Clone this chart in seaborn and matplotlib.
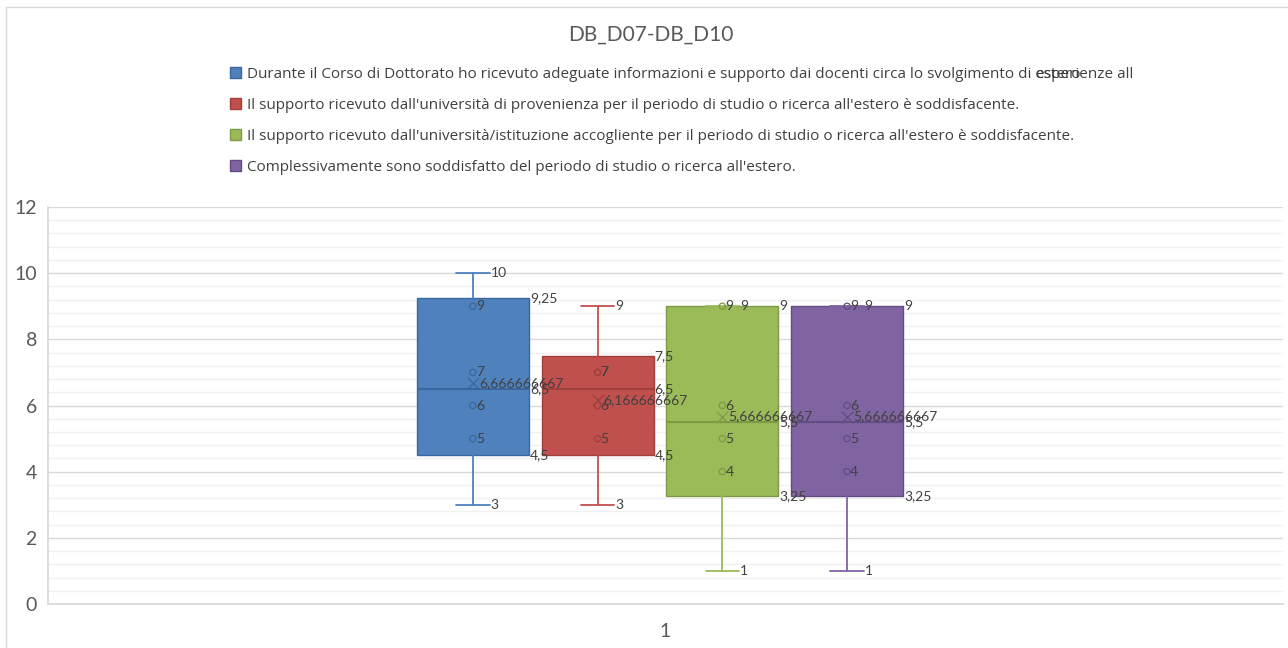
import numpy as np
import matplotlib
matplotlib.use("Agg")
import matplotlib.pyplot as plt
from matplotlib.patches import Patch, Rectangle
from matplotlib.ticker import MultipleLocator
import seaborn as sns

# answers for each question (one category, "1")
d07 = [3, 5, 6, 7, 9, 10]
d08 = [3, 5, 6, 7, 7, 9]
d09 = [1, 4, 5, 6, 9, 9]
d10 = [1, 4, 5, 6, 9, 9]

# first label is wrapped in the original and its second line ("estero")
# ends up drawn on top of the first one
first_label = "Durante il Corso di Dottorato ho ricevuto adeguate informazioni e supporto dai docenti circa lo svolgimento di esperienze all"
first_prefix = "Durante il Corso di Dottorato ho ricevuto adeguate informazioni e supporto dai docenti circa lo svolgimento di "
first_wrap = "estero"
series_labels = [
    first_label,
    "Il supporto ricevuto dall'università di provenienza per il periodo di studio o ricerca all'estero è soddisfacente.",
    "Il supporto ricevuto dall'università/istituzione accogliente per il periodo di studio o ricerca all'estero è soddisfacente.",
    "Complessivamente sono soddisfatto del periodo di studio o ricerca all'estero.",
]
category = "1"
title = "DB_D07-DB_D10"

colors = ["#4F81BD", "#C0504D", "#9BBB59", "#8064A2"]
edges = ["#3A679E", "#A03F3C", "#7D9A45", "#634C84"]

sns.set_theme(style="white")
plt.rcParams["font.family"] = ["Lato", "DejaVu Sans"]

fig = plt.figure(figsize=(12.88, 6.48), dpi=100)
ax = fig.add_axes([48 / 1288, 1 - 604 / 648, 1235 / 1288, 397 / 648])

# layout of the four boxes inside the single category
offsets = [-0.156, -0.055, 0.046, 0.147]
box_w = 0.0907
cap_w = 0.027


def excel_stats(vals):
    v = np.sort(np.asarray(vals, float))
    q1, med, q3 = np.percentile(v, [25, 50, 75], method="weibull")
    iqr = q3 - q1
    lo = v[v >= q1 - 1.5 * iqr].min()
    hi = v[v <= q3 + 1.5 * iqr].max()
    return dict(med=med, q1=q1, q3=q3, whislo=lo, whishi=hi,
                mean=v.mean(), fliers=[])


def fmt(v):
    return f"{v:.10g}".replace(".", ",")


lab_kw = dict(textcoords="offset pixels", ha="left", va="center",
              fontsize=10, color="#404040")

for data, pos, c, ec in zip([d07, d08, d09, d10], offsets, colors, edges):
    st = excel_stats(data)
    ax.bxp([st], positions=[pos], widths=box_w, capwidths=cap_w,
           patch_artist=True, showfliers=False,
           boxprops=dict(facecolor=c, edgecolor=ec, linewidth=1),
           whiskerprops=dict(color=c, linewidth=1.3),
           capprops=dict(color=c, linewidth=1.3),
           medianprops=dict(color=ec, linewidth=1.5))

    # inner points: everything but one min and one max
    inner = sorted(data)[1:-1]
    sns.scatterplot(x=[pos] * len(inner), y=inner, marker="o", s=20,
                    facecolor="none", edgecolor=ec, linewidth=0.9, ax=ax,
                    zorder=4)
    sns.scatterplot(x=[pos], y=[st["mean"]], marker="x", s=70, color=ec,
                    linewidth=0.9, ax=ax, zorder=4)

    for y in inner:
        ax.annotate(fmt(y), (pos, y), xytext=(3, 0), **lab_kw)
    ax.annotate(fmt(st["mean"]), (pos, st["mean"]), xytext=(6, 0), **lab_kw)
    ax.annotate(fmt(st["whishi"]), (pos + cap_w / 2, st["whishi"]), xytext=(1, 0), **lab_kw)
    ax.annotate(fmt(st["whislo"]), (pos + cap_w / 2, st["whislo"]), xytext=(1, 0), **lab_kw)
    ax.annotate(fmt(st["q3"]), (pos + box_w / 2, st["q3"]), xytext=(1, 0), **lab_kw)
    ax.annotate(fmt(st["med"]), (pos + box_w / 2, st["med"]), xytext=(1, 0), **lab_kw)
    ax.annotate(fmt(st["q1"]), (pos + box_w / 2, st["q1"]), xytext=(1, 0), **lab_kw)

ax.set_xlim(-0.5, 0.5)
ax.set_ylim(0, 12)
ax.yaxis.set_major_locator(MultipleLocator(2))
ax.yaxis.set_minor_locator(MultipleLocator(0.4))
ax.grid(axis="y", which="major", color="#D9D9D9", linewidth=1)
ax.grid(axis="y", which="minor", color="#F0F0F0", linewidth=1)
ax.set_axisbelow(True)
ax.set_xticks([0])
ax.set_xticklabels([category])
ax.tick_params(axis="both", which="both", length=0, labelsize=14,
               labelcolor="#595959", pad=8)
ax.tick_params(axis="x", pad=14)
for s in ["top", "right"]:
    ax.spines[s].set_visible(False)
ax.spines["left"].set_color("#D9D9D9")
ax.spines["bottom"].set_color("#D9D9D9")

fig.text(0.5055, 1 - 35 / 648, title, ha="center", va="center",
         fontsize=15, color="#595959")

leg_font = dict(family=["Open Sans", "DejaVu Sans"], size=11)
handles = [Patch(facecolor=c, edgecolor=ec) for c, ec in zip(colors, edges)]
leg = fig.legend(handles, series_labels, loc="upper left",
                 bbox_to_anchor=(216 / 1288, 1 - 53 / 648), frameon=False,
                 prop=leg_font, labelcolor="#404040", handlelength=0.75,
                 handleheight=0.75, handletextpad=0.35, labelspacing=1.05)

# overlay the wrapped "estero" over the first legend line
fig.canvas.draw()
r = fig.canvas.get_renderer()
t0 = leg.get_texts()[0]
bb = t0.get_window_extent(r)
tmp = fig.text(0, 0, first_prefix, fontproperties=t0.get_fontproperties())
pw = tmp.get_window_extent(r).width
tmp.remove()
fig.text((bb.x0 + pw) / fig.bbox.width, (bb.y0 + bb.y1) / 2 / fig.bbox.height,
         first_wrap, fontproperties=t0.get_fontproperties(), color="#404040",
         va="center", ha="left")

fig.patches.append(Rectangle((6 / 1288, -0.05), 1.1, 1 - 7 / 648 + 0.05,
                             transform=fig.transFigure, fill=False,
                             edgecolor="#D9D9D9", linewidth=1))

fig.savefig("out.png", dpi=100, facecolor="white")
